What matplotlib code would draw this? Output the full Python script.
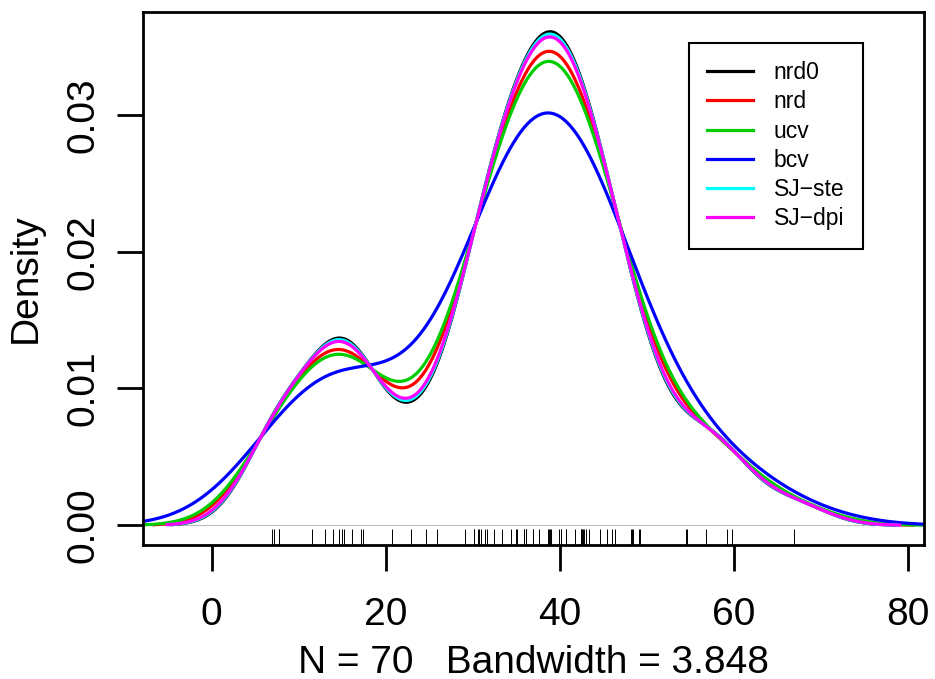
import numpy as np
import matplotlib.pyplot as plt

plt.rcParams["font.family"] = ["Liberation Sans", "DejaVu Sans"]

# annual precipitation (inches) of 70 US cities
precip = [67.0, 54.7, 7.0, 48.5, 14.0, 17.2, 20.7, 13.0, 43.4, 40.2,
          38.9, 54.5, 59.8, 48.3, 22.9, 11.5, 34.4, 35.1, 38.7, 30.8,
          30.6, 43.1, 56.8, 40.8, 41.8, 42.5, 31.0, 31.7, 30.2, 25.9,
          49.2, 37.0, 35.9, 15.0, 30.2, 7.2, 36.2, 45.5, 7.8, 33.4,
          36.1, 40.2, 42.7, 42.5, 16.2, 39.0, 35.0, 37.0, 31.4, 37.6,
          39.9, 36.2, 42.8, 46.4, 24.7, 49.1, 46.0, 35.9, 7.8, 48.2,
          15.2, 32.5, 44.7, 42.6, 38.8, 17.4, 40.8, 29.1, 14.6, 59.2]

methods = ["nrd0", "nrd", "ucv", "bcv", "SJ\u2212ste", "SJ\u2212dpi"]
bandwidths = [3.848, 4.532, 4.88, 6.7, 3.93, 4.03]
colors = ["#000000", "#FF0000", "#00CD00", "#0000FF", "#00FFFF", "#FF00FF"]

x = np.array(precip)


def kde(bw, n):
    # gaussian kernel, R default cut = 3
    grid = np.linspace(x.min() - 3 * bw, x.max() + 3 * bw, n)
    z = (grid[:, None] - x[None, :]) / bw
    dens = np.exp(-0.5 * z**2).sum(axis=1) / (len(x) * bw * np.sqrt(2 * np.pi))
    return grid, dens


fig = plt.figure(figsize=(9.35, 6.79), dpi=100)
ax = fig.add_axes([0.153, 0.1973, 0.835, 0.785])

curves = [kde(bw, 1000 if i == 0 else 512) for i, bw in enumerate(bandwidths)]
g0, d0 = curves[0]
xpad = 0.04 * (g0.max() - g0.min())
ypad = 0.04 * d0.max()
ax.set_xlim(g0.min() - xpad, g0.max() + xpad)
ax.set_ylim(-ypad, d0.max() + ypad)

ax.axhline(0, color="#BEBEBE", lw=0.8, zorder=1)
for (g, d), c, m in zip(curves, colors, methods):
    ax.plot(g, d, color=c, lw=2.3, label=m, zorder=2)

ax.vlines(x, 0, 0.03, transform=ax.get_xaxis_transform(), color="black", lw=0.7)

ax.set_xticks([0, 20, 40, 60, 80])
ax.set_yticks([0.0, 0.01, 0.02, 0.03])
ax.set_yticklabels(["0.00", "0.01", "0.02", "0.03"], rotation=90, va="center")
ax.tick_params(labelsize=28, length=18.7, width=2.0, direction="out")
ax.tick_params(axis="x", pad=18.7)
ax.tick_params(axis="y", pad=11.5)
for s in ax.spines.values():
    s.set_linewidth(2.0)

ax.set_xlabel("N = 70   Bandwidth = 3.848", fontsize=28, labelpad=8.3)
ax.set_ylabel("Density", fontsize=28, labelpad=15.5)

leg = ax.legend(loc="upper right", bbox_to_anchor=(0.922, 0.942), fontsize=16.5,
                fancybox=False, edgecolor="black", framealpha=1,
                handlelength=2.0, handletextpad=0.92, labelspacing=0.27,
                borderpad=0.8, borderaxespad=0)
leg.get_frame().set_linewidth(1.5)

fig.savefig("out.png", dpi=100)
